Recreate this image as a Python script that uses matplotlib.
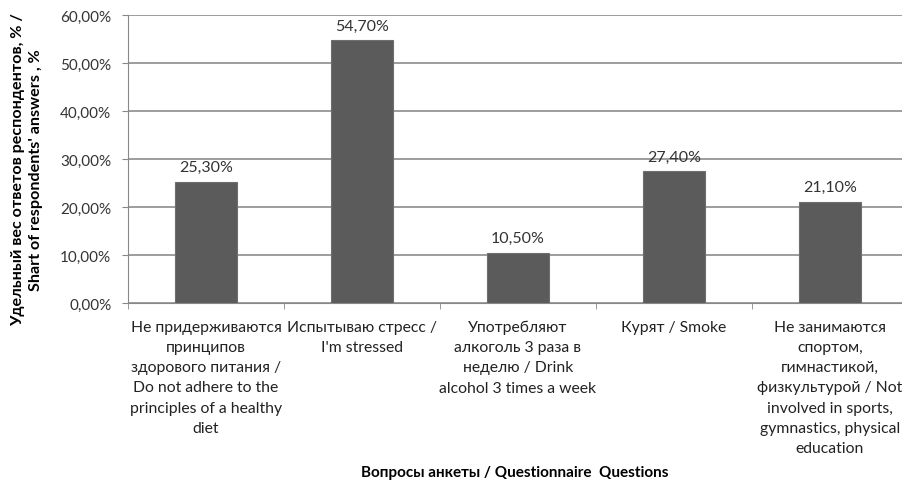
import numpy as np
import matplotlib.pyplot as plt
from matplotlib.ticker import FuncFormatter

plt.rcParams['font.family'] = ['Lato', 'DejaVu Sans']

# Data
categories = [
    "Не придерживаются\nпринципов\nздорового питания /\nDo not adhere to the\nprinciples of a healthy\ndiet",
    "Испытываю стресс /\nI'm stressed",
    "Употребляют\nалкоголь 3 раза в\nнеделю / Drink\nalcohol 3 times a week",
    "Курят / Smoke",
    "Не занимаются\nспортом,\nгимнастикой,\nфизкультурой / Not\ninvolved in sports,\ngymnastics, physical\neducation",
]
values = [25.3, 54.7, 10.5, 27.4, 21.1]
y_ticks = [0, 10, 20, 30, 40, 50, 60]

fig = plt.figure(figsize=(9.03, 4.81), dpi=100)
ax = fig.add_axes([0.1417, 0.368, 0.8638, 0.5988])

x = np.arange(len(values))
ax.bar(x, values, width=0.4, color='#5b5b5b', edgecolor='#6e6e6e', linewidth=0.8, zorder=3)

for xi, v in zip(x, values):
    ax.text(xi, v + 1.6, f"{v:.2f}%".replace('.', ','), ha='center', va='bottom',
            fontsize=11.5, color='#333333')

ax.set_xlim(-0.5, len(values) - 0.5)
ax.set_ylim(0, 60)
ax.set_yticks(y_ticks)
ax.yaxis.set_major_formatter(FuncFormatter(lambda v, p: f"{v:.2f}%".replace('.', ',')))
ax.tick_params(axis='y', labelsize=11, colors='#333333', length=4, color='#888888', pad=8)
ax.grid(axis='y', color='#8c8c8c', linewidth=1.2, zorder=0)

ax.set_xticks(x)
ax.set_xticklabels(categories, fontsize=11.3, color='#222222', linespacing=1.57, va='top')
ax.tick_params(axis='x', length=0, pad=12)
ax.set_xticks(np.arange(len(values) + 1) - 0.5, minor=True)
ax.tick_params(axis='x', which='minor', length=4, color='#888888')

for s in ['top', 'right']:
    ax.spines[s].set_visible(False)
ax.spines['left'].set_color('#888888')
ax.spines['bottom'].set_color('#888888')

fig.text(27 / 903, 1 - 170 / 481,
         "Удельный вес ответов респондентов, % /\nShart of respondents' answers , %",
         rotation=90, ha='center', va='center', fontsize=11.6, fontweight='bold',
         linespacing=1.35)
fig.text(0.570, 0.002, "Вопросы анкеты / Questionnaire  Questions", ha='center', va='bottom',
         fontsize=11, fontweight='bold')

fig.savefig("out.png", dpi=100)
